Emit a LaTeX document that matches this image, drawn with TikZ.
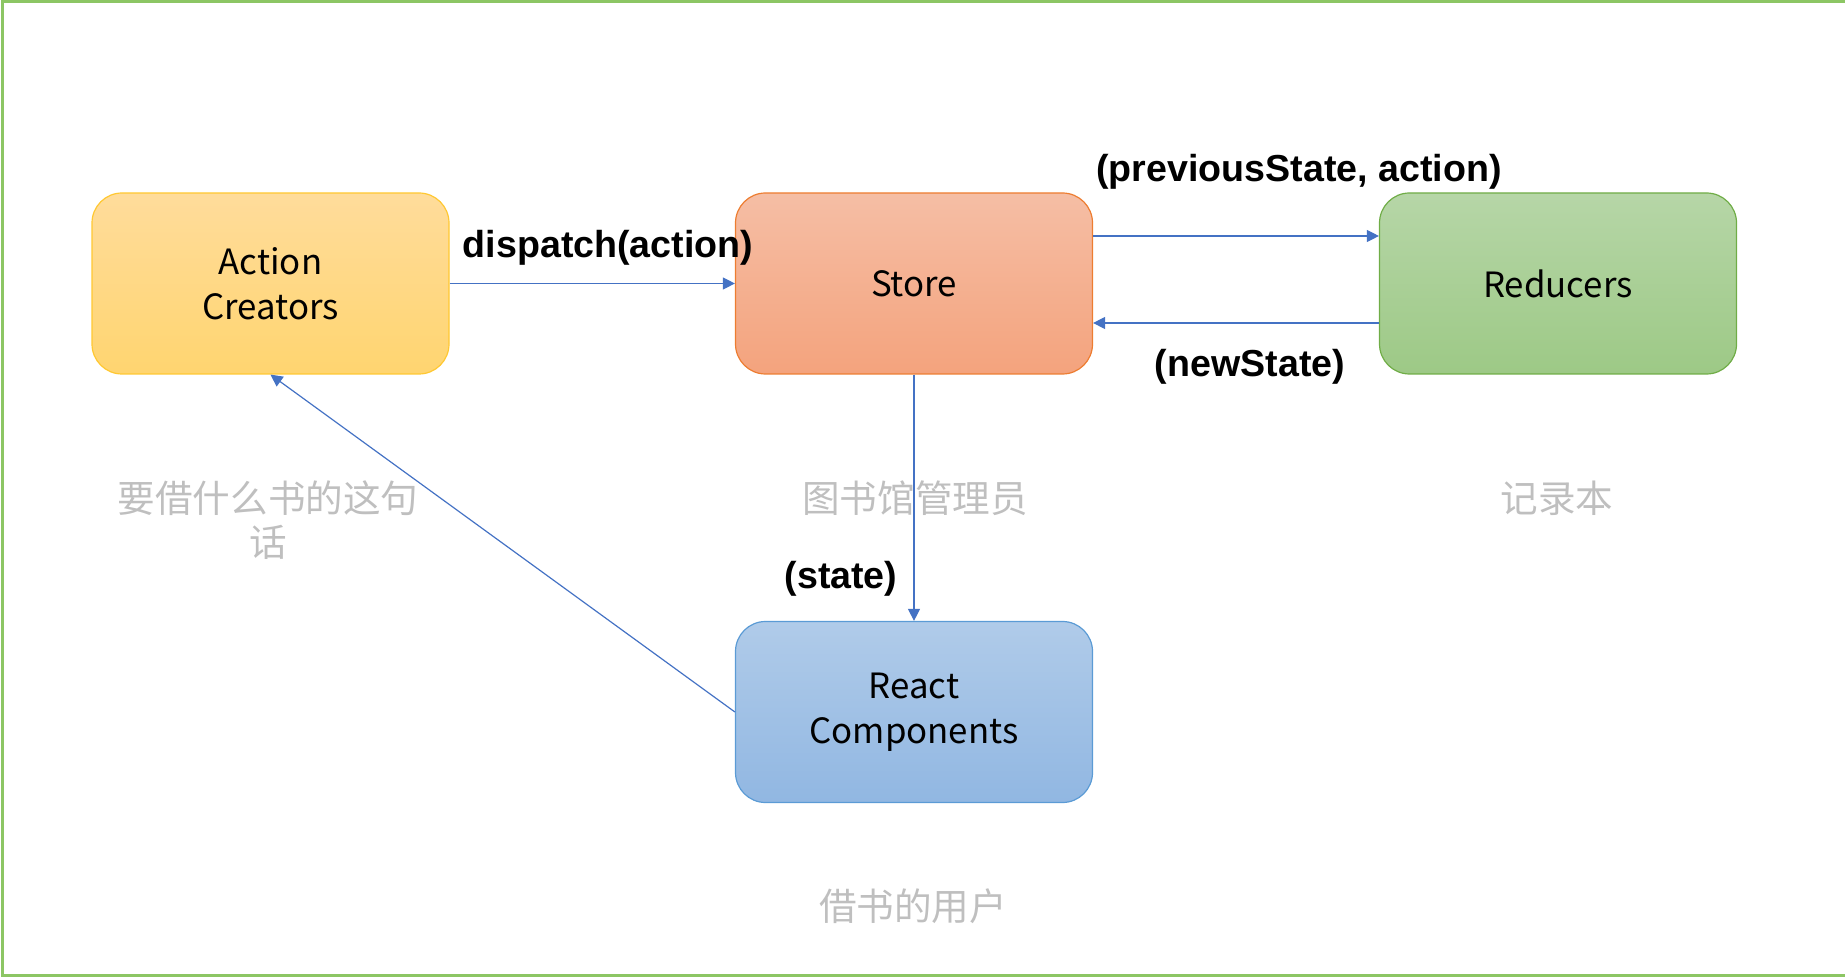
\documentclass[tikz,border=0pt]{standalone}
\usepackage{fontspec}
\setmainfont{Noto Sans CJK SC}
\newfontfamily\lblfont{Liberation Sans}
\usetikzlibrary{arrows.meta,calc}

\definecolor{acTop}{RGB}{255,220,155}
\definecolor{acBot}{RGB}{255,213,112}
\definecolor{acLine}{RGB}{255,200,50}
\definecolor{stTop}{RGB}{245,190,165}
\definecolor{stBot}{RGB}{244,163,125}
\definecolor{stLine}{RGB}{237,125,49}
\definecolor{rdTop}{RGB}{182,214,167}
\definecolor{rdBot}{RGB}{157,201,134}
\definecolor{rdLine}{RGB}{112,173,71}
\definecolor{rcTop}{RGB}{176,203,233}
\definecolor{rcBot}{RGB}{145,183,226}
\definecolor{rcLine}{RGB}{91,155,213}
\definecolor{noteGray}{RGB}{191,191,191}
\definecolor{arrowBlue}{RGB}{68,114,196}
\definecolor{frameGreen}{RGB}{140,198,100}

\begin{document}
\begin{tikzpicture}[x=0.5pt,y=-0.5pt,
    box/.style={draw, line width=0.6pt, rounded corners=15pt, minimum width=178.5pt, minimum height=90.5pt, align=center, font=\fontsize{17.4}{22.5}\selectfont},
    lbl/.style={inner sep=0pt, font=\lblfont\bfseries\fontsize{18.8}{22.5}\selectfont},
    note/.style={inner sep=0pt, align=center, text=noteGray, font=\fontsize{18.8}{22}\selectfont},
    flow/.style={-{Triangle[length=6pt,width=6pt]}, draw=arrowBlue, line width=0.6pt}]

	\useasboundingbox (0,0) rectangle (1845,977);

	% Frame
	\draw[frameGreen, line width=1.5pt] (1845,2) -- (2,2) -- (2,975) -- (1845,975);

	% Boxes
	\node[box, top color=acTop, bottom color=acBot, draw=acLine] (action) at (270.5,283.5) {Action\\Creators};
	\node[box, top color=stTop, bottom color=stBot, draw=stLine] (store) at (914,283.5) {Store};
	\node[box, top color=rdTop, bottom color=rdBot, draw=rdLine] (reducers) at (1558,283.5) {Reducers};
	\node[box, top color=rcTop, bottom color=rcBot, draw=rcLine] (react) at (914,712) {React\\Components};

	% Flow between the boxes
	\draw[flow] (action.east) -- (store.west);
	\draw[flow] ([yshift=23.75pt]store.east) -- ([yshift=23.75pt]reducers.west);
	\draw[flow] ([yshift=-19.75pt]reducers.west) -- ([yshift=-19.75pt]store.east);
	\draw[flow] (store.south) -- (react.north);
	\draw[flow] (react.west) -- (action.south);

	% Labels of the flow
	\node[lbl] (dispatch) at (608,248) {dispatch(action)};
	\node[lbl] (prevlbl) at (1299,172) {(previousState, action)};
	\node[lbl] (newlbl) at (1250,367) {(newState)};
	\node[lbl] (statelbl) at (841,579) {(state)};

	% Notes
	\node[note] (asknote) at (268,520) {要借什么书的这句\\话};
	\node[note] (librarian) at (915,498) {图书馆管理员};
	\node[note] (notebook) at (1557,498) {记录本};
	\node[note] (reader) at (913,906) {借书的用户};

\end{tikzpicture}
\end{document}
